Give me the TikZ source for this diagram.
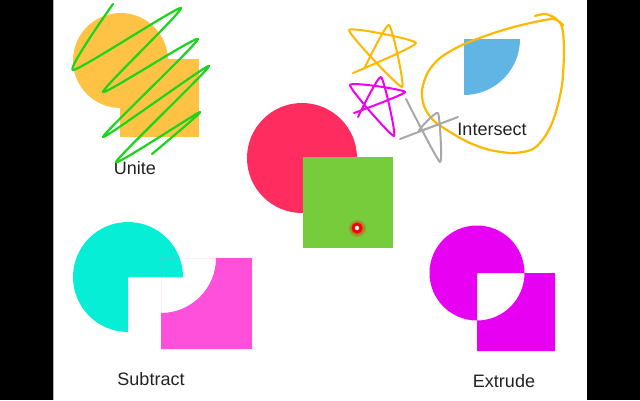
\documentclass[tikz,border=0pt]{standalone}
\usepackage{fontspec}
\setmainfont{Liberation Sans}
\definecolor{uniteyellow}{HTML}{FEC344}
\definecolor{redc}{HTML}{FF2D5F}
\definecolor{greensq}{HTML}{77CC3C}
\definecolor{bluec}{HTML}{61B5E4}
\definecolor{cyanc}{HTML}{06EFD6}
\definecolor{pinkc}{HTML}{FF50DC}
\definecolor{magc}{HTML}{E800F2}
\definecolor{scribble}{HTML}{1CD41C}
\definecolor{orangec}{HTML}{FFB800}
\definecolor{starmag}{HTML}{F000F0}
\definecolor{stargray}{HTML}{A8A8A8}
\definecolor{textc}{HTML}{222222}
\begin{document}
\begin{tikzpicture}[x=1pt,y=-1pt,
  label/.style={font=\fontsize{18}{20}\selectfont, text=textc, anchor=base, inner sep=0pt},
  pen/.style={line width=2.2pt, line cap=round, line join=round}]
\useasboundingbox (0,0) rectangle (640,400);
\fill[black] (0,0) rectangle (640,400);
\fill[white] (54,0) rectangle (587,400);
\draw[gray!60, line width=0.6pt] (53.5,0) -- (53.5,400);

% Unite
\fill[uniteyellow] (120.5,60.5) circle (47.5pt);
\fill[uniteyellow] (120,59) rectangle (199,137);
\node[label] (unite) at (135,174) {Unite};
\draw[pen, scribble] plot[smooth, tension=0.35] coordinates {(113,4) (73,70) (181,8) (103,92) (198,39) (103,137) (209,66) (116,162) (200,112) (152,154)};

% Center
\fill[redc] (302,158) circle (55pt);
\fill[greensq] (303,157) rectangle (393,248);
\shade[inner color=red, outer color=greensq] (357,228) circle (9.5pt);
\fill[red] (357,228) circle (5.5pt);
\fill[white] (357,228) circle (2.2pt);

% Intersect
\begin{scope}
  \clip (464,39) rectangle (530,110);
  \fill[bluec] (464,39) circle (56pt);
\end{scope}
\node[label] (intersect) at (492,135) {Intersect};
\draw[pen, orangec] plot[smooth, tension=0.5] coordinates {(535,16) (545,14) (555,18) (562,27) (564,50) (562,85) (555,115) (546,135) (533,149) (513,153) (490,150) (470,143) (450,132) (433,120) (424,106) (422,90) (428,72) (440,58) (460,46) (485,36) (510,28) (535,22) (554,19) (563,25)};
\draw[pen, orangec, line width=2pt] plot[smooth, tension=0.3] coordinates {(353,73) (416,43) (349,30) (402,87) (389,25) (364,69)};
\draw[pen, starmag, line width=2pt] plot[smooth, tension=0.3] coordinates {(354,113) (405,92) (350,85) (394,136) (381,77) (358,117)};
\draw[pen, stargray, line width=2pt] plot[smooth, tension=0.3] coordinates {(406,99) (440,162) (438,113) (419,131) (458,117) (400,139)};

% Subtract
\fill[cyanc] (128,277) -- (128,332) arc[start angle=90, end angle=360, radius=55] -- cycle;
\begin{scope}
  \clip (161,258) rectangle (252,349);
  \fill[pinkc, even odd rule] (161,258) rectangle (252,349) (161,258) circle (55pt);
\end{scope}
\node[label] (subtract) at (151,385) {Subtract};

% Extrude
\fill[magc, even odd rule] (477,273) circle (47.5pt) (477,273) rectangle (555,351);
\node[label] (extrude) at (504,387) {Extrude};
\end{tikzpicture}
\end{document}
